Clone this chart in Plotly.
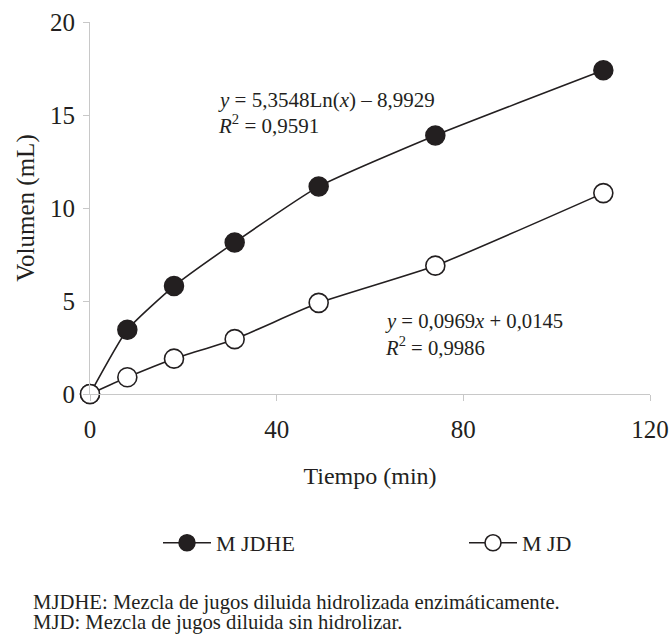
import plotly.graph_objects as go

tiempo = [0, 8, 18, 31, 49, 74, 110]
mjdhe = [0, 3.45, 5.8, 8.15, 11.15, 13.9, 17.4]
mjd = [0, 0.9, 1.9, 2.95, 4.9, 6.9, 10.8]
x_ticks = [0, 40, 80, 120]
y_ticks = [0, 5, 10, 15, 20]

FONT = "Liberation Serif"
INK = "#231f20"
AX = "#c8c8c8"

W, H = 669, 637
PL, PT, PW, PH = 90, 22, 560, 372


def px(xs):
    return (xs - PL) / PW


def py(ys):
    return (PT + PH - ys) / PH


fig = go.Figure()
fig.add_trace(go.Scatter(
    x=tiempo, y=mjdhe, name="M JDHE", mode="lines+markers",
    line=dict(color=INK, width=1.6, shape="spline", smoothing=0.5),
    marker=dict(size=19, color=INK, line=dict(color=INK, width=1.5)),
    cliponaxis=False, legend="legend",
))
fig.add_trace(go.Scatter(
    x=tiempo, y=mjd, name="M JD", mode="lines+markers",
    line=dict(color=INK, width=1.6, shape="spline", smoothing=0.5),
    marker=dict(size=19, color="white", line=dict(color=INK, width=1.6)),
    cliponaxis=False, legend="legend2",
))

leg_common = dict(
    orientation="h", yanchor="middle", xanchor="left",
    font=dict(family=FONT, size=22, color=INK),
    itemwidth=48, bgcolor="rgba(0,0,0,0)", borderwidth=0,
)

fig.update_layout(
    width=W, height=H,
    margin=dict(l=PL, r=W - PL - PW, t=PT, b=H - PT - PH, autoexpand=False),
    paper_bgcolor="white", plot_bgcolor="white",
    font=dict(family=FONT, size=25, color=INK),
    showlegend=True,
    legend=dict(x=px(158), y=py(543), **leg_common),
    legend2=dict(x=px(464), y=py(543), **leg_common),
    xaxis=dict(
        range=[0, 120], tickvals=x_ticks, showgrid=False, zeroline=False,
        showline=True, linecolor=AX, linewidth=1, automargin=False,
        ticks="outside", ticklen=6, tickcolor=AX, ticklabelstandoff=7,
        tickfont=dict(family=FONT, size=25, color=INK),
        title=dict(text="Tiempo (min)", standoff=25, font=dict(family=FONT, size=24, color=INK)),
    ),
    yaxis=dict(
        range=[0, 20], tickvals=y_ticks, showgrid=False, zeroline=False,
        showline=True, linecolor=AX, linewidth=1, automargin=False,
        ticks="outside", ticklen=6, tickcolor=AX, ticklabelstandoff=3,
        tickfont=dict(family=FONT, size=25, color=INK),
        title=dict(text="Volumen (mL)", standoff=8, font=dict(family=FONT, size=25, color=INK)),
    ),
)

texts = [
    (217, 100, "<i>y</i> = 5,3548Ln(<i>x</i>) – 8,9929", 21),
    (217, 125, "<i>R</i><sup>2</sup> = 0,9591", 21),
    (384, 321, "<i>y</i> = 0,0969<i>x</i> + 0,0145", 20.7),
    (384, 346, "<i>R</i><sup>2</sup> = 0,9986", 20.7),
    (32, 602, "MJDHE: Mezcla de jugos diluida hidrolizada enzimáticamente.", 20.7),
    (32, 622, "MJD: Mezcla de jugos diluida sin hidrolizar.", 20.7),
]
for xs, ys, t, s in texts:
    fig.add_annotation(
        xref="paper", yref="paper", x=px(xs), y=py(ys),
        xanchor="left", yanchor="middle", align="left", showarrow=False,
        text=t, font=dict(family=FONT, size=s, color=INK), borderpad=0,
    )

fig.write_html(
    "out.html",
    config={"displayModeBar": False},
    post_script="document.body.style.margin='0';document.body.style.overflow='hidden';",
)
